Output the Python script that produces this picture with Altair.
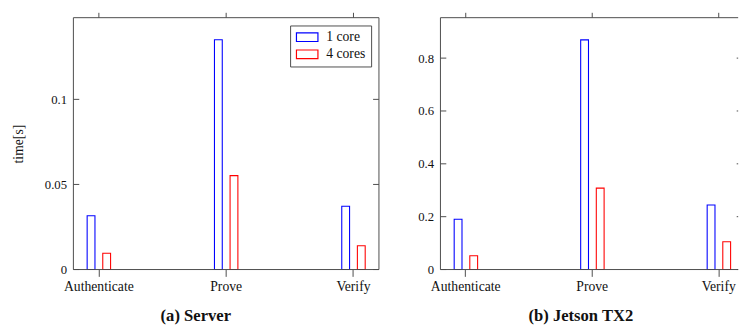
import altair as alt
import pandas as pd

categories = ["Authenticate", "Prove", "Verify"]
series = ["1 core", "4 cores"]
colors = ["#0000ff", "#ff0000"]

server_1core = [0.0316, 0.135, 0.0372]
server_4cores = [0.0096, 0.0552, 0.014]
jetson_1core = [0.190, 0.869, 0.244]
jetson_4cores = [0.052, 0.308, 0.105]

server_yticks = [0, 0.05, 0.1]
jetson_yticks = [0, 0.2, 0.4, 0.6, 0.8]
server_ymax = 0.148
jetson_ymax = 0.953

FONT = "Liberation Serif"
FRAME = "#4a4a4a"
H = 258


def panel(v1, v4, yticks, ymax, width, full_width, title, legend, ytitle, right_frame):
    rows = []
    for c, a, b in zip(categories, v1, v4):
        rows.append({"cat": c, "series": series[0], "value": a})
        rows.append({"cat": c, "series": series[1], "value": b})
    df = pd.DataFrame(rows)
    xs = alt.Scale(domain=categories, range=[0, full_width], paddingInner=0.6, paddingOuter=0)
    ys = alt.Scale(domain=[0, ymax], nice=False, zero=True)

    yaxis_kw = dict(values=yticks, format="~g", tickSize=0, domain=False, grid=False,
                    labelPadding=7, labelFont=FONT, labelFontSize=13, labelColor="#111")
    if ytitle:
        yaxis_kw.update(title=ytitle, titleFont=FONT, titleFontSize=14,
                        titleFontWeight="normal", titlePadding=19, titleColor="#111")
    else:
        yaxis_kw.update(title=None)
    yaxis = alt.Axis(**yaxis_kw)
    xaxis = alt.Axis(title=None, labelAngle=0, tickSize=7, tickColor=FRAME,
                     domain=False, grid=False, labelPadding=3, labelOverlap=False,
                     labelFont=FONT, labelFontSize=14, labelColor="#111")

    if legend:
        leg = alt.Legend(title=None, orient="none", legendX=222, legendY=8,
                         symbolType="M-1,-0.8H3V0.8H-1Z", symbolSize=121,
                         symbolFillColor="white", symbolStrokeWidth=1.2,
                         labelOffset=18, labelFont=FONT, labelFontSize=14, labelColor="#111",
                         padding=5, rowPadding=3.5, strokeColor=FRAME, fillColor="white")
    else:
        leg = None

    bars = alt.Chart(df).mark_bar(fill="white", strokeWidth=1.1).encode(
        x=alt.X("cat:N", scale=xs, sort=categories, axis=xaxis),
        xOffset=alt.XOffset("series:N", sort=series,
                            scale=alt.Scale(domain=series, paddingInner=0.5, paddingOuter=0.88)),
        y=alt.Y("value:Q", scale=ys, axis=yaxis),
        stroke=alt.Stroke("series:N", scale=alt.Scale(domain=series, range=colors), legend=leg),
    )
    tdf = pd.DataFrame({"value": yticks})
    left = alt.Chart(tdf).mark_rule(color=FRAME, strokeWidth=1).encode(
        y=alt.Y("value:Q", scale=ys, axis=yaxis), x=alt.value(0), x2=alt.value(6))
    rt0 = min(full_width - 6, width - 1.5)
    right = alt.Chart(tdf).mark_rule(color=FRAME, strokeWidth=1).encode(
        y=alt.Y("value:Q", scale=ys, axis=yaxis), x=alt.value(rt0), x2=alt.value(width))
    cdf = pd.DataFrame({"cat": categories})
    top = alt.Chart(cdf).mark_rule(color=FRAME, strokeWidth=1).encode(
        x=alt.X("cat:N", scale=xs, sort=categories, axis=xaxis),
        y=alt.value(-5), y2=alt.value(0))

    one = pd.DataFrame({"k": [0]})
    frame_layers = [
        alt.Chart(one).mark_rule(color=FRAME, strokeWidth=1).encode(
            x=alt.value(0), x2=alt.value(width), y=alt.value(0)),
        alt.Chart(one).mark_rule(color=FRAME, strokeWidth=1).encode(
            x=alt.value(0), x2=alt.value(width), y=alt.value(H)),
        alt.Chart(one).mark_rule(color=FRAME, strokeWidth=1).encode(
            x=alt.value(0), y=alt.value(0), y2=alt.value(H)),
    ]
    if right_frame:
        frame_layers.append(alt.Chart(one).mark_rule(color=FRAME, strokeWidth=1).encode(
            x=alt.value(width), y=alt.value(0), y2=alt.value(H)))

    return alt.layer(bars, left, right, top, *frame_layers).properties(
        width=width, height=H,
        title=alt.TitleParams(title, orient="bottom", font=FONT, fontSize=17,
                              fontWeight="bold", color="#111", offset=16, frame="bounds"))


p1 = panel(server_1core, server_4cores, server_yticks, server_ymax, 313, 313,
           "(a) Server", True, "time[s]", True)
p2 = panel(jetson_1core, jetson_4cores, jetson_yticks, jetson_ymax, 305, 311,
           "(b) Jetson TX2", False, None, False)

chart = alt.hconcat(p1, p2, spacing=38).resolve_scale(stroke="independent").resolve_legend(
    stroke="independent").properties(
    padding={"left": 3, "top": 0, "right": 0, "bottom": 0}
).configure_view(stroke="transparent")

chart.save("out.html", embed_options={"renderer": "svg", "actions": False})
